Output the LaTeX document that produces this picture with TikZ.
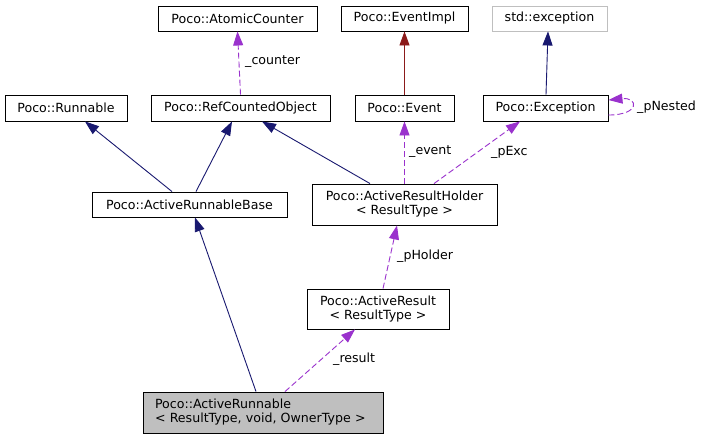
\documentclass[tikz,border=0pt]{standalone}
\usepackage{fontspec}
\setmainfont{DejaVu Sans}
\usetikzlibrary{arrows.meta,calc}
\definecolor{edgepurple}{HTML}{9A32CD}
\definecolor{edgeblue}{HTML}{191970}
\definecolor{edgered}{HTML}{8B1A1A}
\definecolor{boxgray}{HTML}{BFBFBF}
\begin{document}
\begin{tikzpicture}[x=1pt,y=-1pt,
  font=\fontsize{12.6}{14}\selectfont,
  cls/.style={draw=black,line width=0.9pt,inner sep=0pt,align=center,fill=white},
  tip/.style={-{Triangle[length=14pt,width=10pt]}},
  inherit/.style={tip,draw=edgeblue,line width=0.9pt},
  inheritred/.style={tip,draw=edgered,line width=0.9pt},
  uses/.style={tip,draw=edgepurple,line width=0.9pt,dash pattern=on 6pt off 3pt},
  lbl/.style={anchor=west,inner sep=0pt}]
\useasboundingbox (0,0) rectangle (703,439);
\fill[white] (0,0) rectangle (703,439);

\node[cls,minimum width=159pt,minimum height=25pt] (ac) at (237.5,18.5) {Poco::AtomicCounter};
\node[cls,minimum width=127pt,minimum height=25pt] (ei) at (404.5,18.5) {Poco::EventImpl};
\node[cls,draw=boxgray,minimum width=115pt,minimum height=25pt] (se) at (549.5,18.5) {std::exception};
\node[cls,minimum width=122pt,minimum height=26pt] (run) at (66,108) {Poco::Runnable};
\node[cls,minimum width=179pt,minimum height=26pt] (rco) at (240.5,108) {Poco::RefCountedObject};
\node[cls,minimum width=99pt,minimum height=26pt] (ev) at (404.5,108) {Poco::Event};
\node[cls,minimum width=125pt,minimum height=26pt] (ex) at (545.5,108) {Poco::Exception};
\node[cls,minimum width=195pt,minimum height=25pt] (arb) at (189.5,204.5) {Poco::ActiveRunnableBase};
\node[cls,minimum width=185pt,minimum height=41pt] (arh) at (404.5,204.5) {Poco::ActiveResultHolder\\\textless{} ResultType \textgreater{}};
\node[cls,minimum width=142pt,minimum height=40pt] (ar) at (378,309) {Poco::ActiveResult\\\textless{} ResultType \textgreater{}};
\node[cls,fill=boxgray,minimum width=240pt,minimum height=41pt,align=left,text width=216pt] (arun) at (263,412.5) {Poco::ActiveRunnable\\\textless{} ResultType, void, OwnerType \textgreater{}};

% edges
\draw[uses] (rco.north) -- (ac.south);
\draw[inheritred] (ev.north) -- (ei.south);
\draw[inherit] ([xshift=0.5pt]ex.north) -- ([xshift=-1.5pt]se.south);
\draw[uses] ([yshift=-7pt]ex.east) .. controls +(32,0) and +(30,-3) .. ([yshift=8pt]ex.east);
\draw[inherit] ([xshift=-17.5pt]arb.north) -- ([xshift=19pt]run.south);
\draw[inherit] ([xshift=6.5pt]arb.north) -- ([xshift=-8.5pt]rco.south);
\draw[inherit] ([xshift=-34.5pt]arh.north) -- ([xshift=21.5pt]rco.south);
\draw[uses] (arh.north) -- (ev.south);
\draw[uses] ([xshift=29.5pt]arh.north) -- ([xshift=-25.5pt]ex.south);
\draw[uses] ([xshift=5pt]ar.north) -- ([xshift=-7.5pt]arh.south);
\draw[inherit] ([xshift=-7pt]arun.north) -- ([xshift=5.5pt]arb.south);
\draw[uses] ([xshift=22pt]arun.north) -- ([xshift=-23pt]ar.south);

% labels
\node[lbl] (lcounter) at (245,62) {\_counter};
\node[lbl] (lnested) at (637,107) {\_pNested};
\node[lbl] (levent) at (409,152) {\_event};
\node[lbl] (lpexc) at (491,152) {\_pExc};
\node[lbl] (lholder) at (397,256) {\_pHolder};
\node[lbl] (lresult) at (333,359) {\_result};
\end{tikzpicture}
\end{document}
